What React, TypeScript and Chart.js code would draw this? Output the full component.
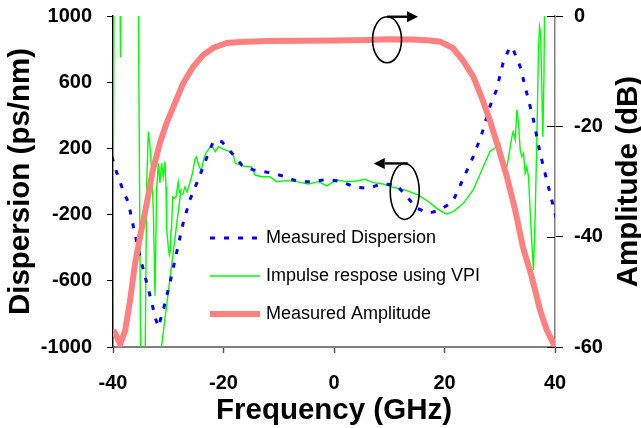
import React, { useEffect, useRef } from "react";
import { Chart, registerables } from "chart.js";

Chart.register(...registerables);

const FONT = '"Liberation Sans", Arial, Helvetica, sans-serif';

// ---------- axes ----------
const freqMin = -40;
const freqMax = 40;
const freqStep = 20;
const dispMin = -1000;
const dispMax = 1000;
const dispStep = 400;
const ampMin = -60;
const ampMax = 0;
const ampStep = 20;

// ---------- series: Measured Dispersion (ps/nm) ----------
const dispersionFreq = [
  -40.2, -39.3, -38.4, -37.2, -36.3, -35.1, -33.9, -33.0, -32.4, -31.8, -30.9, -29.7,
  -28.5, -27.3, -26.1, -24.6, -23.0, -21.8, -20.3, -18.5, -16.7, -14.6, -11.6, -9.2,
  -6.5, -3.75, -1.3, 1.4, 3.8, 6.2, 8.6, 11.3, 12.9, 15.0, 17.1, 19.2, 21.5, 23.7,
  25.2, 26.7, 28.2, 29.4, 30.6, 31.85, 32.4, 33.7, 34.9, 36.1, 37.3, 38.5, 39.7, 40.3,
];
const dispersionVal = [
  150, 51, -33, -130, -275, -456, -613, -728, -819, -879, -776, -613,
  -432, -251, -112, 9, 148, 245, 240, 172, 100, 70, 53, 33,
  -1, -1, 13, -1, -35, -41, -15, -21, -82, -162, -192, -172, -122, 39,
  150, 281, 452, 553, 716, 815, 800, 694, 533, 372, 172, 9, -152, -233,
];

// ---------- series: Impulse response using VPI (ps/nm) ----------
const impulseFreq = [
  -40.1, -39.8, -38.75, -38.65, -38.55, -35.45, -34.95, -34.25,
  -33.9, -33.6, -33.3, -33.0, -32.7, -32.4, -32.1, -31.8, -31.5, -31.2, -30.9, -30.6,
  -30.4, -30.3, -30.0, -29.8, -29.6, -29.5, -29.4, -29.2, -29.0, -28.6, -28.2, -28.0,
  -27.7, -31.6, NaN,
  -27.4, -27.0, -26.6, -26.1, -25.6, -25.2, -24.9, -24.4, -24.0, -23.7, -23.2, -22.8,
  -22.15, -21.5, -20.9, -20.0, -18.8, -18.2, -17.9, -16.4, -14.9, -14.3, -13.1, -11.6,
  -10.4, -8.6, -6.75, -4.65, -2.8, -1.3, 0.5, 2.3, 4.1, 5.6, 7.1, 8.9, 10.7, 13.2,
  15.3, 17.1, 18.6, 19.8, 20.4, 21.6, 23.4, 25.2, 27.0, 28.2, 29.4, 30.0, 30.35, 30.6,
  31.3, 32.2, 32.45, 32.8, 33.1, 33.4, 33.7, 34.0, 34.3, 34.6, 34.9, 35.2, 35.5, 35.8,
  36.1, 36.4, 36.7, 37.0, 37.2, 37.4, 37.8, 38.0, 38.2,
];
const impulseVal = [
  -1300, 1300, 1300, 750, 1300, 1300, -1300, -1300,
  -9, 301, 210, 70, -172, -690, -51, 110, -9, 112, 27, 120,
  -33, -275, -396, -444, -414, -293, -275, -94, -100, -94, -3, -63,
  -51, -1100, NaN,
  -82, -33, -63, -9, 51, 130, 148, 88, 70, 118, 172, 190,
  221, 180, 210, 194, 180, 160, 110, 94, 88, 39, 29, 29,
  -1, 5, -1, -15, -1, -27, 9, -1, 3, 13, -7, -15, -35, -55,
  -82, -122, -162, -188, -196, -182, -132, -51, 88, 180, 210, 231, 150, 70,
  88, 271, 301, 251, 432, 352, 190, 150, 170, 49, 88, 29, -172, -374,
  -535, -213, 231, 775, 935, 895, 271, 633, 1400,
];

// ---------- series: Measured Amplitude (dB) ----------
const amplitudeFreq = [
  -40, -39.6, -38.7, -37.8, -36.9, -36.0, -35.1, -33.9, -32.8, -31.5, -30.3, -29.1,
  -27.3, -25.5, -23.7, -21.9, -19.4, -17.0, -12, -6, 0, 6, 10, 14, 17, 19.2,
  21.5, 23.3, 25.2, 26.7, 28.2, 29.7, 31.3, 32.8, 34.2, 35.8, 37.3, 38.5, 40,
];
const amplitudeVal = [
  -57, -57.5, -59.5, -57, -51.5, -44.8, -40, -34, -28, -23, -19.4, -16.5,
  -12.2, -9.2, -7.1, -5.8, -4.9, -4.7, -4.55, -4.5, -4.45, -4.35, -4.2, -4.25, -4.4, -4.65,
  -5.8, -8, -11, -14.7, -18.9, -23.7, -29.2, -35.2, -41.9, -47.3, -53.3, -56.9, -60,
];

// annotation anchors (data units)
const ampMarker = { f: 9.6, v: -4.3 };
const dispMarker = { f: 12.8, v: -60 };

const toPoints = (xs: number[], ys: number[]) =>
  xs.map((x, i) => ({ x: Number.isNaN(x) ? null : x, y: Number.isNaN(ys[i]) ? null : ys[i] }));

function drawMarker(ctx: CanvasRenderingContext2D, cx: number, cy: number, rx: number, ry: number, dir: number, len: number) {
  ctx.save();
  ctx.strokeStyle = "#000";
  ctx.fillStyle = "#000";
  ctx.lineWidth = 1.6;
  ctx.beginPath();
  ctx.ellipse(cx, cy, rx, ry, 0, 0, Math.PI * 2);
  ctx.stroke();
  const ty = cy - ry;
  const x0 = cx + (dir > 0 ? 0 : 3);
  const tip = x0 + dir * len;
  const headLen = 11;
  const headHalf = 5.5;
  ctx.lineWidth = 2.4;
  ctx.beginPath();
  ctx.moveTo(x0, ty);
  ctx.lineTo(tip - dir * headLen, ty);
  ctx.stroke();
  ctx.beginPath();
  ctx.moveTo(tip, ty);
  ctx.lineTo(tip - dir * headLen, ty - headHalf);
  ctx.lineTo(tip - dir * headLen, ty + headHalf);
  ctx.closePath();
  ctx.fill();
  ctx.restore();
}

const decorPlugin = {
  id: "decor",
  afterDatasetsDraw(chart: any) {
    const { ctx, scales, chartArea } = chart;
    const xs = scales.x;
    const ys = scales.y;
    const y2 = scales.y2;
    ctx.save();
    // inner halves of the right-axis ticks
    ctx.strokeStyle = "#000";
    ctx.lineWidth = 1;
    y2.ticks.forEach((t: any) => {
      const py = Math.round(y2.getPixelForValue(t.value)) + 0.5;
      ctx.beginPath();
      ctx.moveTo(chartArea.right - 8, py);
      ctx.lineTo(chartArea.right, py);
      ctx.stroke();
    });

    drawMarker(ctx, xs.getPixelForValue(ampMarker.f), y2.getPixelForValue(ampMarker.v), 14.5, 23, 1, 31);
    drawMarker(ctx, xs.getPixelForValue(dispMarker.f), ys.getPixelForValue(dispMarker.v), 14.5, 28, -1, 34);

    // legend inside the plot
    const lx0 = chartArea.left + 97;
    const lx1 = lx0 + 50;
    const tx = lx0 + 56;
    const rowY = [238, 276, 314];
    ctx.font = `18px ${FONT}`;
    ctx.textBaseline = "middle";
    ctx.textAlign = "left";
    chart.data.datasets.forEach((ds: any, i: number) => {
      const y = rowY[i];
      ctx.save();
      ctx.strokeStyle = ds.borderColor;
      ctx.lineWidth = ds.borderWidth;
      ctx.setLineDash(ds.borderDash || []);
      ctx.lineCap = "butt";
      ctx.beginPath();
      ctx.moveTo(lx0, y);
      ctx.lineTo(lx1, y);
      ctx.stroke();
      ctx.restore();
      ctx.fillStyle = "#000";
      ctx.fillText(ds.label, tx, y);
    });

    // right axis title (reads bottom to top)
    ctx.save();
    ctx.translate(637, (chartArea.top + chartArea.bottom) / 2);
    ctx.rotate(-Math.PI / 2);
    ctx.font = `bold 29.5px ${FONT}`;
    ctx.textAlign = "center";
    ctx.textBaseline = "alphabetic";
    ctx.fillStyle = "#000";
    ctx.fillText("Amplitude (dB)", 0, 0);
    ctx.restore();

    ctx.restore();
  },
};

export default function App() {
  const ref = useRef<HTMLCanvasElement | null>(null);

  useEffect(() => {
    if (!ref.current) return;
    const tickFont = { family: FONT, size: 20, weight: "bold" as const };
    const titleFont = { family: FONT, size: 29.5, weight: "bold" as const, lineHeight: 1.1 };
    const chart = new Chart(ref.current, {
      type: "scatter",
      data: {
        datasets: [
          {
            label: "Measured Dispersion",
            data: toPoints(dispersionFreq, dispersionVal),
            yAxisID: "y",
            showLine: true,
            borderColor: "#0000ff",
            borderWidth: 3,
            borderDash: [5, 9],
            pointRadius: 0,
            order: 1,
          },
          {
            label: "Impulse respose using VPI",
            data: toPoints(impulseFreq, impulseVal),
            yAxisID: "y",
            showLine: true,
            spanGaps: false,
            borderColor: "#00ff00",
            borderWidth: 1.4,
            pointRadius: 0,
            order: 2,
          },
          {
            label: "Measured Amplitude",
            data: toPoints(amplitudeFreq, amplitudeVal),
            yAxisID: "y2",
            showLine: true,
            borderColor: "#ff8080",
            borderWidth: 6,
            pointRadius: 0,
            order: 0,
          },
        ],
      },
      options: {
        responsive: false,
        animation: false,
        events: [],
        layout: { padding: { top: 16, left: 0, right: 0, bottom: 0 } },
        plugins: { legend: { display: false }, tooltip: { enabled: false } },
        scales: {
          x: {
            type: "linear",
            min: freqMin,
            max: freqMax,
            ticks: { stepSize: freqStep, font: tickFont, color: "#000", padding: 18, callback: (v: any) => String(v) },
            grid: { drawOnChartArea: false, tickLength: 6, tickColor: "#555", tickWidth: 1.5 },
            border: { color: "#808080", width: 2 },
            title: { display: true, text: "Frequency (GHz)", font: titleFont, color: "#000", padding: { top: 0, bottom: 0.5 } },
            afterFit: (s: any) => { s.height = 81; s.paddingLeft = 0; s.paddingRight = 0; },
          },
          y: {
            type: "linear",
            position: "left",
            min: dispMin,
            max: dispMax,
            ticks: { stepSize: dispStep, font: tickFont, color: "#000", padding: 15, callback: (v: any) => String(v) },
            grid: { drawOnChartArea: false, tickLength: 6, tickColor: "#000", tickWidth: 1 },
            border: { color: "#000", width: 1.5 },
            title: { display: true, text: "Dispersion (ps/nm)", font: titleFont, color: "#000", padding: { top: 5, bottom: 0 } },
            afterFit: (s: any) => { s.width = 113; s.paddingTop = 0; s.paddingBottom = 0; },
          },
          y2: {
            type: "linear",
            position: "right",
            min: ampMin,
            max: ampMax,
            ticks: { stepSize: ampStep, font: tickFont, color: "#000", padding: 11, callback: (v: any) => String(v) },
            grid: { drawOnChartArea: false, tickLength: 8, tickColor: "#000", tickWidth: 1 },
            border: { color: "#808080", width: 1.5 },
            afterFit: (s: any) => { s.width = 86; s.paddingTop = 0; s.paddingBottom = 0; },
          },
        },
      },
      plugins: [decorPlugin],
    });
    return () => chart.destroy();
  }, []);

  return (
    <div style={{ position: "fixed", left: 0, top: 0, width: 641, height: 428, background: "#fff" }}>
      <canvas ref={ref} width={641} height={428} style={{ width: 641, height: 428, display: "block" }} />
    </div>
  );
}
